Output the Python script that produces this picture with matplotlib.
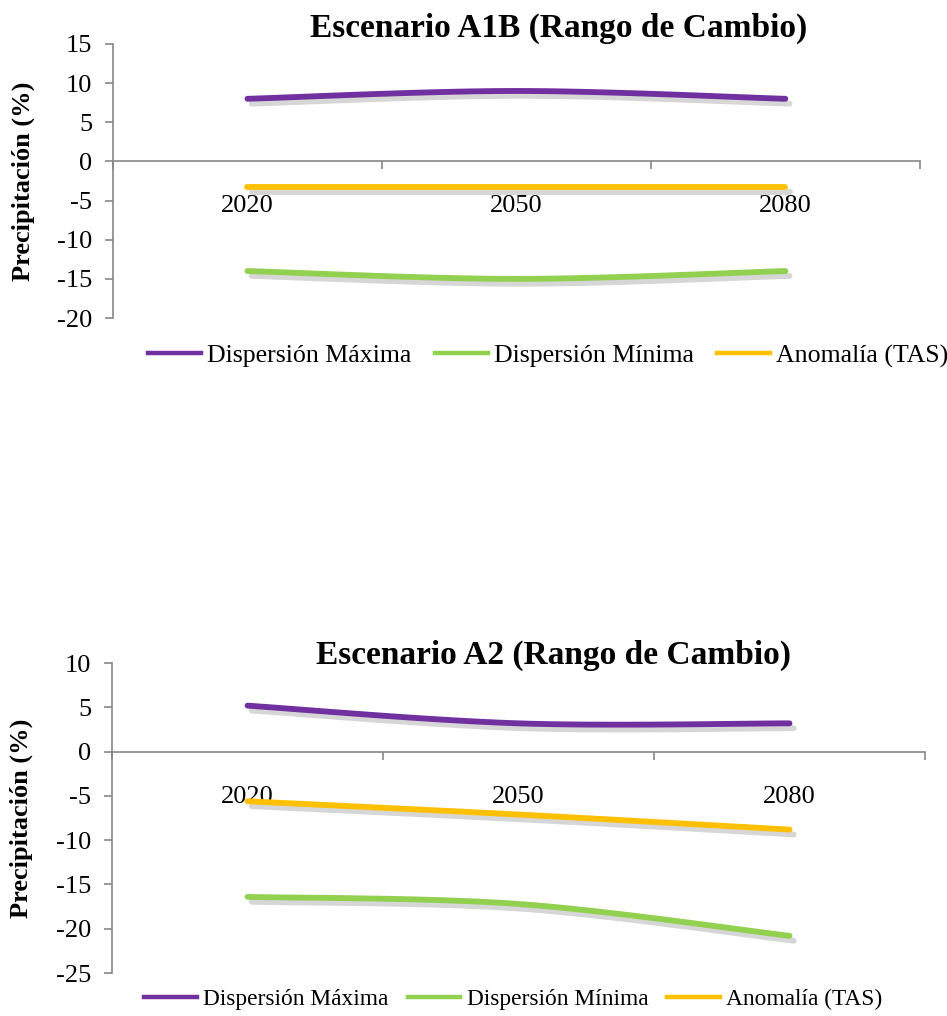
import numpy as np
import matplotlib.pyplot as plt
from matplotlib.lines import Line2D
import matplotlib.patheffects as pe

# datos
years = ['2020', '2050', '2080']
series_names = ['Dispersión Máxima', 'Dispersión Mínima', 'Anomalía (TAS)']
colors = ['#7030A0', '#92D050', '#FFC000']

a1b_max = [8.0, 9.0, 8.0]
a1b_min = [-14.0, -15.0, -14.0]
a1b_anom = [-3.3, -3.3, -3.3]

a2_max = [5.2, 3.2, 3.2]
a2_min = [-16.4, -17.2, -20.8]
a2_anom = [-5.6, -7.1, -8.8]

plt.rcParams['font.family'] = ['Liberation Serif', 'DejaVu Serif']
plt.rcParams['axes.unicode_minus'] = False
AXIS_GRAY = '#868686'


# curva suavizada tipo Excel (bezier)
def smooth_line(xs, ys, n=40):
    xs = np.asarray(xs, float)
    ys = np.asarray(ys, float)
    px = np.concatenate([[xs[0]], xs, [xs[-1]]])
    py = np.concatenate([[ys[0]], ys, [ys[-1]]])
    out_x, out_y = [], []
    t = np.linspace(0, 1, n)
    for i in range(1, len(px) - 2):
        p0 = np.array([px[i], py[i]])
        p3 = np.array([px[i + 1], py[i + 1]])
        c1 = p0 + (np.array([px[i + 1], py[i + 1]]) - np.array([px[i - 1], py[i - 1]])) / 6
        c2 = p3 - (np.array([px[i + 2], py[i + 2]]) - np.array([px[i], py[i]])) / 6
        b = ((1 - t) ** 3)[:, None] * p0 + (3 * (1 - t) ** 2 * t)[:, None] * c1 \
            + (3 * (1 - t) * t ** 2)[:, None] * c2 + (t ** 3)[:, None] * p3
        out_x.extend(b[:, 0])
        out_y.extend(b[:, 1])
    return out_x, out_y


def draw_chart(ax, data, ylim, title, title_xy, legend_xy, leg_fs, leg_opts):
    x = np.arange(len(years))
    for vals, c in zip(data, colors):
        sx, sy = smooth_line(x, vals)
        ax.plot(sx, sy, color=c, lw=4.2, solid_capstyle='round', zorder=3,
                path_effects=[pe.SimpleLineShadow(offset=(3, -3.5), shadow_color='#808080', alpha=0.32),
                              pe.Normal()])

    ax.set_xlim(-0.5, len(years) - 0.5)
    ax.set_ylim(*ylim)
    ax.set_yticks(np.arange(ylim[0], ylim[1] + 1, 5))
    ax.set_xticks(np.arange(-0.5, len(years), 1.0))
    ax.set_xticklabels([])
    ax.set_xticks(x, minor=True)
    ax.set_xticklabels(years, minor=True)
    ax.tick_params(axis='x', which='minor', length=0, pad=24.5, labelsize=19)
    ax.tick_params(axis='x', which='major', length=6, color=AXIS_GRAY, width=1.2)
    ax.tick_params(axis='y', length=6, color=AXIS_GRAY, width=1.2, labelsize=19, pad=9)

    for s in ['top', 'right']:
        ax.spines[s].set_visible(False)
    ax.spines['bottom'].set_position(('data', 0))
    ax.spines['left'].set_color(AXIS_GRAY)
    ax.spines['bottom'].set_color(AXIS_GRAY)
    ax.spines['left'].set_linewidth(1.2)
    ax.spines['bottom'].set_linewidth(1.2)

    ax.set_ylabel('Precipitación (%)', fontsize=19, fontweight='bold')
    ax.yaxis.set_label_coords(-0.097, 0.5)

    fig.text(title_xy[0], title_xy[1], title, fontsize=24, fontweight='bold',
             ha='center', va='center')

    handles = [Line2D([0], [0], color=c, lw=3.2) for c in colors]
    fig.legend(handles, series_names, loc='center', bbox_to_anchor=legend_xy,
               ncol=3, frameon=False, fontsize=leg_fs, **leg_opts)


fig = plt.figure(figsize=(9.47, 10.16), dpi=100)
ax1 = fig.add_axes([0.1193, 0.687, 0.852, 0.2697])
ax2 = fig.add_axes([0.1183, 0.0423, 0.8585, 0.305])

draw_chart(ax1, [a1b_max, a1b_min, a1b_anom], (-20, 15),
           'Escenario A1B (Rango de Cambio)', (0.590, 0.972), (0.579, 0.6496),
           18.6, dict(handlelength=2.05, handletextpad=0.23, columnspacing=0.9))
draw_chart(ax2, [a2_max, a2_min, a2_anom], (-25, 10),
           'Escenario A2 (Rango de Cambio)', (0.585, 0.355), (0.542, 0.0167),
           16.8, dict(handlelength=2.27, handletextpad=0.26, columnspacing=0.82))

fig.savefig('out.png', dpi=100)
